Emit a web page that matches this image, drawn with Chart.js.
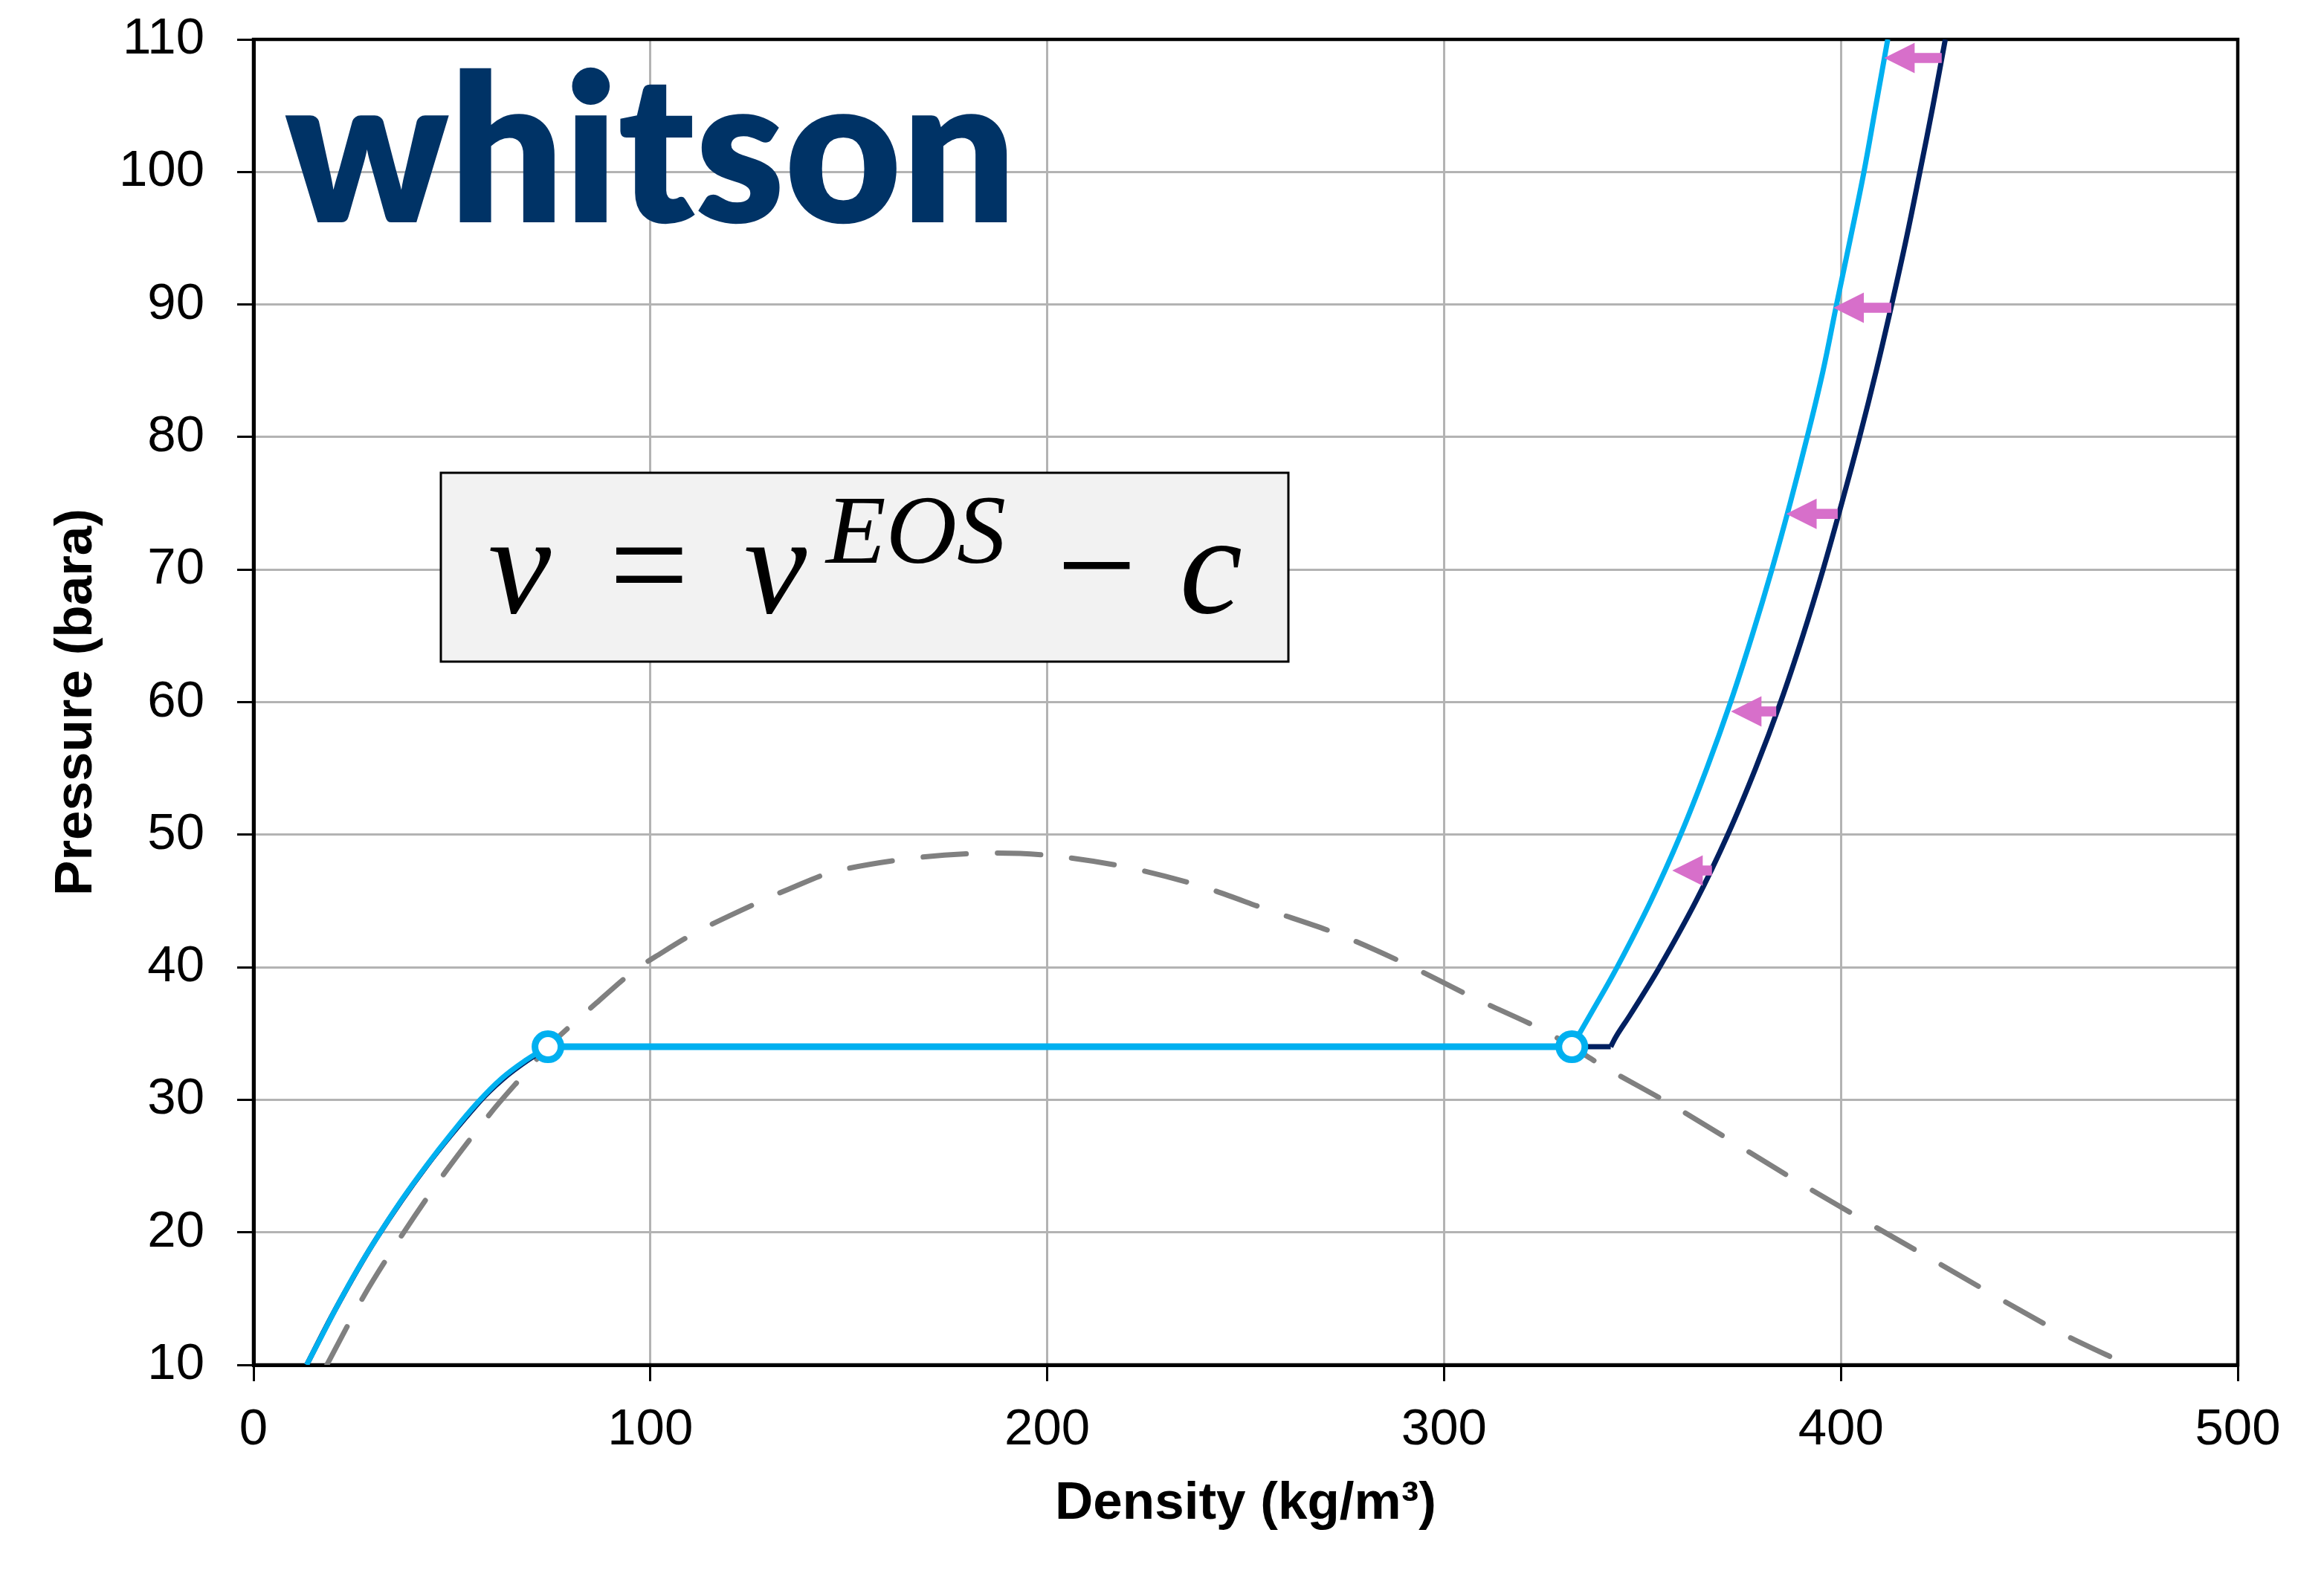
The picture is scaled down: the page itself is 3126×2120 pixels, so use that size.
<!DOCTYPE html>
<html>
<head>
<meta charset="utf-8">
<title>Volume translation</title>
<script src="https://cdn.jsdelivr.net/npm/chart.js@4.4.1/dist/chart.umd.min.js"></script>
<style>
  html, body { margin: 0; padding: 0; background: #fff; }
</style>
</head>
<body>
<canvas id="chart-pv" width="3126" height="2120"></canvas>
<script>
// axis ticks
var densityTicks = [0, 100, 200, 300, 400, 500];
var pressureTicks = [10, 20, 30, 40, 50, 60, 70, 80, 90, 100, 110];

// volume translated isotherm (light blue), vapour side
var vtGasDensity = [13.4, 17.2, 21.2, 26.0, 31.1, 37.0, 43.5, 50.0, 56.5, 62.5, 68.7, 74.2];
var vtGasPressure = [10, 12.2, 14.5, 17.1, 19.6, 22.3, 25.0, 27.5, 29.8, 31.6, 33.0, 34.0];
// volume translated isotherm, liquid side
var vtLiqDensity = [332.2, 337.0, 343.6, 352.1, 359.6, 366.2, 372.2, 377.6, 382.6, 387.2, 391.5, 395.5, 398.9, 402.4, 405.8, 408.8, 411.8];
var vtLiqPressure = [34.0, 36.5, 40, 45, 50, 55, 60, 65, 70, 75, 80, 85, 90, 95, 100, 105, 110];

// vapour pressure line and saturated densities
var satPressure = 34.0;
var satDensity = [74.2, 332.2];
var eosSatDensity = [74.7, 342.0];

// original EOS isotherm (dark blue)
var eosGasDensity = [13.4, 21.2, 31.1, 43.6, 56.8, 63.0, 69.2, 74.7];
var eosGasPressure = [10, 14.5, 19.6, 25.0, 29.8, 31.6, 33.0, 34.0];
var eosLiqDensity = [342.0, 343.4, 347.1, 354.3, 363.5, 371.5, 378.5, 384.8, 390.4, 395.5, 400.2, 404.7, 408.9, 412.8, 416.5, 419.9, 423.2, 426.3];
var eosLiqPressure = [34.0, 34.8, 36.5, 40, 45, 50, 55, 60, 65, 70, 75, 80, 85, 90, 95, 100, 105, 110];

// dashed dome (grey)
var domeDensity = [18.5, 28.0, 38.1, 48.7, 60.3, 68.4, 74.2, 86.4, 95.7, 101.3, 111.9, 128.7, 134.9, 146.1, 165.3, 183.8,
    199.9, 219.2, 237.8, 255.9, 273.3, 290.7, 307.4, 324.7, 332.2, 340.8, 357.5, 389.8, 422.1, 454.9, 472.3];
var domePressure = [10, 15.3, 20.1, 24.7, 29.2, 32.0, 34.0, 37.3, 39.7, 40.8, 42.7, 45.1, 45.9, 47.2, 48.2, 48.6,
    48.45, 47.6, 46.2, 44.3, 42.5, 40.2, 37.7, 35.3, 34.0, 32.4, 29.6, 23.7, 18.1, 12.5, 10];

// shift arrows, from EOS line to translated line
var arrowPressure = [47.3, 59.3, 74.2, 89.75, 108.6];
var arrowFrom = [367.5, 383.7, 399.2, 412.7, 425.4];
var arrowTo = [357.5, 372.3, 386.2, 398.1, 410.9];

function toXY(xs, ys) {
    return xs.map(function (x, i) { return {x: x, y: ys[i]}; });
}

var LIGHT = '#00b0f0';
var DARK = '#002060';
var GREY = '#808080';
var PINK = '#d76fca';
var SANS = '"Liberation Sans", Arial, sans-serif';

function curve(points, color, width, tension) {
    return {
        data: points,
        showLine: true,
        borderColor: color,
        borderWidth: width,
        pointRadius: 0,
        pointHoverRadius: 0,
        tension: tension
    };
}

// frame, logo and equation box (drawn over the grid, under the curves)
var decorPlugin = {
    id: 'decor',
    beforeDatasetsDraw: function (chart) {
        var ctx = chart.ctx;
        var a = chart.chartArea;
        ctx.save();

        // logo
        ctx.fillStyle = '#003366';
        ctx.font = '800 277px Lato, "Open Sans", sans-serif';
        ctx.textBaseline = 'alphabetic';
        ctx.textAlign = 'left';
        var w = ctx.measureText('whitson').width;
        ctx.translate(383, 299);
        ctx.scale(984 / w, 1);
        ctx.fillText('whitson', 0, 0);
        ctx.setTransform(1, 0, 0, 1, 0, 0);

        // equation box
        ctx.fillStyle = '#f2f2f2';
        ctx.fillRect(593, 636, 1140, 254);
        ctx.strokeStyle = '#000';
        ctx.lineWidth = 3;
        ctx.strokeRect(593, 636, 1140, 254);

        ctx.fillStyle = '#000';
        ctx.textAlign = 'center';
        ctx.font = 'italic 190px "Liberation Serif", "DejaVu Serif", serif';
        ctx.fillText('v', 699, 824);
        ctx.fillText('v', 1043, 824);
        ctx.fillText('c', 1629, 824);
        ctx.font = '190px "Liberation Serif", "DejaVu Serif", serif';
        ctx.fillText('=', 873, 824);
        ctx.fillText('\u2212', 1475, 824);
        ctx.font = 'italic 132px "Liberation Serif", "DejaVu Serif", serif';
        ctx.fillText('EOS', 1232, 757);

        // plot frame
        ctx.strokeStyle = '#000';
        ctx.lineWidth = 4.5;
        ctx.strokeRect(a.left, a.top, a.right - a.left, a.bottom - a.top);
        ctx.restore();
    }
};

var arrowPlugin = {
    id: 'arrows',
    afterDatasetsDraw: function (chart) {
        var ctx = chart.ctx;
        var sx = chart.scales.x;
        var sy = chart.scales.y;
        ctx.save();
        ctx.fillStyle = PINK;
        for (var i = 0; i < arrowPressure.length; i++) {
            var x0 = sx.getPixelForValue(arrowFrom[i]);
            var x1 = sx.getPixelForValue(arrowTo[i]);
            var y = sy.getPixelForValue(arrowPressure[i]);
            var hx = x1 + 41;
            ctx.beginPath();
            ctx.moveTo(x0, y - 6.8);
            ctx.lineTo(hx, y - 6.8);
            ctx.lineTo(hx, y - 20.5);
            ctx.lineTo(x1, y);
            ctx.lineTo(hx, y + 20.5);
            ctx.lineTo(hx, y + 6.8);
            ctx.lineTo(x0, y + 6.8);
            ctx.closePath();
            ctx.fill();
        }
        ctx.restore();
    }
};

var satPoints = satDensity.map(function (d) { return {x: d, y: satPressure}; });
var eosSatPoints = eosSatDensity.map(function (d) { return {x: d, y: satPressure}; });
var dome = curve(toXY(domeDensity, domePressure), GREY, 7, 0.3);
dome.borderDash = [58, 42];
dome.borderCapStyle = 'round';

var ctxPV = document.getElementById('chart-pv');
var chartPV = new Chart(ctxPV, {
    type: 'scatter',
    data: {
        // first dataset is drawn on top
        datasets: [{
            data: satPoints,
            showLine: false,
            pointRadius: 17.5,
            pointHoverRadius: 17.5,
            pointBorderWidth: 9,
            pointBackgroundColor: '#fff',
            pointBorderColor: LIGHT
        },
        curve(satPoints, LIGHT, 9, 0),
        curve(toXY(vtGasDensity, vtGasPressure), LIGHT, 7, 0.4),
        curve(toXY(vtLiqDensity, vtLiqPressure), LIGHT, 7, 0.4),
        curve(eosSatPoints, DARK, 7, 0),
        curve(toXY(eosGasDensity, eosGasPressure), DARK, 7, 0.4),
        curve(toXY(eosLiqDensity, eosLiqPressure), DARK, 7, 0.4),
        dome]
    },
    options: {
        responsive: false,
        animation: false,
        devicePixelRatio: 1,
        layout: {padding: {top: 53, right: 116, left: 0, bottom: 0}},
        plugins: {legend: {display: false}, tooltip: {enabled: false}},
        scales: {
            x: {
                type: 'linear',
                min: densityTicks[0],
                max: densityTicks[densityTicks.length - 1],
                afterBuildTicks: function (s) { s.ticks = densityTicks.map(function (v) { return {value: v}; }); },
                afterFit: function (s) { s.height = 284; s.paddingLeft = 0; s.paddingRight = 0; },
                grid: {color: '#b3b3b3', lineWidth: 3, tickLength: 22, tickColor: '#000', tickWidth: 3},
                border: {color: '#000', width: 5},
                ticks: {color: '#000', padding: 25, font: {family: SANS, size: 69}},
                title: {display: true, text: 'Density (kg/m\u00b3)', color: '#000',
                    font: {family: SANS, size: 71, weight: 'bold'}, padding: {top: 0, bottom: 54}}
            },
            y: {
                type: 'linear',
                min: pressureTicks[0],
                max: pressureTicks[pressureTicks.length - 1],
                afterBuildTicks: function (s) { s.ticks = pressureTicks.map(function (v) { return {value: v}; }); },
                afterFit: function (s) { s.width = 341; s.paddingTop = 0; s.paddingBottom = 0; },
                grid: {color: '#b3b3b3', lineWidth: 3, tickLength: 22, tickColor: '#000', tickWidth: 3},
                border: {color: '#000', width: 5},
                ticks: {color: '#000', padding: 44, font: {family: SANS, size: 69}},
                title: {display: true, text: 'Pressure (bara)', color: '#000',
                    font: {family: SANS, size: 71, weight: 'bold'}, padding: {top: 61, bottom: 0}}
            }
        }
    },
    plugins: [decorPlugin, arrowPlugin]
});
</script>
</body>
</html>
